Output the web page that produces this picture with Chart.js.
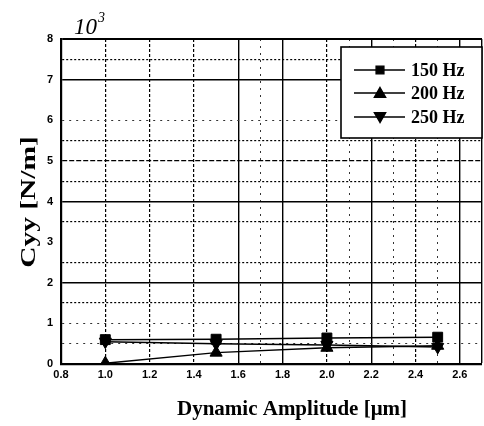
<!DOCTYPE html>
<html>
<head>
<meta charset="utf-8">
<script src="https://cdn.jsdelivr.net/npm/chart.js@4.4.1/dist/chart.umd.min.js"></script>
<style>
  html, body { margin: 0; padding: 0; background: #fff; overflow: hidden; }
  #wrap { position: relative; width: 490px; height: 426px; }
</style>
</head>
<body>
<div id="wrap"><canvas id="c"></canvas></div>
<script>
// ---- data ----
const amplitudes = [1.0, 1.5, 2.0, 2.5];          // Dynamic Amplitude [μm]
const cyy150 = [0.60, 0.61, 0.64, 0.66];          // ×10^3 N/m
const cyy200 = [0.02, 0.28, 0.40, 0.45];
const cyy250 = [0.55, 0.50, 0.47, 0.42];
const seriesLabels = ['150 Hz', '200 Hz', '250 Hz'];
const xTickLabels = ['0.8','1.0','1.2','1.4','1.6','1.8','2.0','2.2','2.4','2.6'];
const yTickLabels = ['0','1','2','3','4','5','6','7','8'];
const yTitle = 'Cyy [N/m]';
const xTitle = 'Dynamic Amplitude [μm]';
const scaleNote = '10';
const scaleExp = '3';

const toPts = (ys) => amplitudes.map((x, i) => ({ x: x, y: ys[i] }));

const r1 = v => Math.round(v * 10) / 10;
const r2 = v => Math.round(v * 2) / 2;

// horizontal grid style by value
function hGrid(v) {
  v = r2(v);
  if (v === 8) return { w: 2, c: '#000', d: [] };
  if (v === 0) return { w: 0, c: 'rgba(0,0,0,0)', d: [] };
  if (v === 2 || v === 4 || v === 7) return { w: 1.4, c: '#000', d: [] };
  if (v === 5) return { w: 1.2, c: '#000', d: [5, 2] };
  if (v === 3 || v === 6.5) return { w: 0, c: 'rgba(0,0,0,0)', d: [] };
  if (v === 6 || v === 1 || v === 0.5) return { w: 1, c: '#333', d: [2, 5] };
  return { w: 1.2, c: '#000', d: [2, 2] };
}
function vGrid(v) {
  v = r1(v);
  if (v === 0.8) return { w: 0, c: 'rgba(0,0,0,0)', d: [] };
  if ([1.6, 1.8, 2.2, 2.6, 2.7].includes(v)) return { w: 1.4, c: '#000', d: [] };
  if ([1.0, 1.2, 1.4, 2.0, 2.4].includes(v)) return { w: 1.2, c: '#000', d: [3, 2] };
  if ([1.7, 2.1, 2.3, 2.5].includes(v)) return { w: 1, c: '#333', d: [2, 5] };
  return { w: 0, c: 'rgba(0,0,0,0)', d: [] };
}

const framePlugin = {
  id: 'frame',
  afterDraw(chart) {
    const ctx = chart.ctx;
    ctx.save();
    ctx.fillStyle = '#000';
    // 10^3 scale note
    ctx.font = 'italic 23px "Liberation Serif"';
    ctx.textBaseline = 'alphabetic';
    ctx.textAlign = 'left';
    ctx.fillText(scaleNote, 74, 34);
    const w = ctx.measureText(scaleNote).width;
    ctx.font = 'italic 14px "Liberation Serif"';
    ctx.fillText(scaleExp, 74 + w + 1, 22);

    // y title
    ctx.save();
    ctx.translate(30, 202);
    ctx.rotate(-Math.PI / 2);
    ctx.scale(1.4, 1);
    ctx.font = 'bold 21px "Liberation Serif"';
    ctx.textAlign = 'center';
    ctx.textBaseline = 'middle';
    ctx.fillText(yTitle, 0, 0);
    ctx.restore();

    // x title
    ctx.font = 'bold 21px "Liberation Serif"';
    ctx.textAlign = 'center';
    ctx.textBaseline = 'middle';
    ctx.fillText(xTitle, 292, 410);

    // legend box
    const bx = 341, by = 47, bw = 141, bh = 91;
    ctx.fillStyle = '#fff';
    ctx.fillRect(bx, by, bw, bh);
    ctx.strokeStyle = '#000';
    ctx.lineWidth = 1.6;
    ctx.strokeRect(bx, by, bw, bh);
    const rows = [70, 93, 117];
    chart.data.datasets.forEach((ds, i) => {
      const y = rows[i];
      ctx.beginPath();
      ctx.lineWidth = 1.4;
      ctx.strokeStyle = '#000';
      ctx.moveTo(354, y);
      ctx.lineTo(405, y);
      ctx.stroke();
      ctx.fillStyle = '#000';
      Chart.helpers.drawPoint(ctx, {
        pointStyle: ds.pointStyle,
        radius: ds.pointStyle === 'rect' ? 5.5 : 6.5,
        rotation: ds.rotation || 0,
        borderWidth: 1
      }, 380, y + (ds.pointStyle === 'triangle' ? (ds.rotation ? -1 : 1) : 0));
      ctx.fillStyle = '#000';
      ctx.font = 'bold 18px "Liberation Serif"';
      ctx.textAlign = 'left';
      ctx.textBaseline = 'middle';
      ctx.fillText(ds.label, 411, y + 1);
    });
    ctx.restore();
  }
};

const common = {
  borderColor: '#000',
  backgroundColor: '#000',
  pointBackgroundColor: '#000',
  pointBorderColor: '#000',
  borderWidth: 1.5,
  pointBorderWidth: 1,
  showLine: true,
  tension: 0,
  fill: false
};

new Chart(document.getElementById('c'), {
  type: 'scatter',
  data: {
    datasets: [
      Object.assign({}, common, { label: seriesLabels[0], data: toPts(cyy150), pointStyle: 'rect', pointRadius: 7, rotation: 0, order: 3 }),
      Object.assign({}, common, { label: seriesLabels[1], data: toPts(cyy200), pointStyle: 'triangle', pointRadius: 7, rotation: 0, order: 2 }),
      Object.assign({}, common, { label: seriesLabels[2], data: toPts(cyy250), pointStyle: 'triangle', pointRadius: 7, rotation: 180, pointRotation: 180, order: 1 })
    ]
  },
  options: {
    responsive: true,
    maintainAspectRatio: false,
    animation: false,
    layout: { padding: { top: 39, left: 0, right: 0, bottom: 0 } },
    plugins: { legend: { display: false }, tooltip: { enabled: false }, title: { display: false } },
    scales: {
      x: {
        type: 'linear',
        min: 0.8,
        max: 2.7,
        afterFit(s) { s.height = 62; },
        afterBuildTicks(s) {
          const t = [];
          for (let i = 8; i <= 27; i++) t.push({ value: i / 10 });
          s.ticks = t;
        },
        ticks: {
          color: '#000',
          font: { family: '"Liberation Sans"', weight: 'bold', size: 11 },
          padding: 4,
          maxRotation: 0,
          autoSkip: false,
          callback(v) {
            const k = Math.round(v * 10);
            if (k % 2 !== 0) return '';
            const idx = (k - 8) / 2;
            return xTickLabels[idx] !== undefined ? xTickLabels[idx] : '';
          }
        },
        grid: {
          drawTicks: false,
          color: c => c.tick ? vGrid(c.tick.value).c : '#000',
          lineWidth: c => c.tick ? vGrid(c.tick.value).w : 2
        },
        border: {
          display: true, color: '#000', width: 2.2,
          dash: c => c.tick ? vGrid(c.tick.value).d : []
        }
      },
      y: {
        type: 'linear',
        min: 0,
        max: 8,
        afterFit(s) { s.width = 61; },
        afterBuildTicks(s) {
          const t = [];
          for (let i = 0; i <= 16; i++) t.push({ value: i / 2 });
          s.ticks = t;
        },
        ticks: {
          color: '#000',
          font: { family: '"Liberation Sans"', weight: 'bold', size: 11 },
          padding: 8,
          autoSkip: false,
          callback(v) {
            const k = Math.round(v * 2);
            if (k % 2 !== 0) return '';
            return yTickLabels[k / 2] !== undefined ? yTickLabels[k / 2] : '';
          }
        },
        grid: {
          drawTicks: false,
          color: c => c.tick ? hGrid(c.tick.value).c : '#000',
          lineWidth: c => c.tick ? hGrid(c.tick.value).w : 2
        },
        border: {
          display: true, color: '#000', width: 2.2,
          dash: c => c.tick ? hGrid(c.tick.value).d : []
        }
      }
    }
  },
  plugins: [framePlugin]
});
</script>
</body>
</html>
